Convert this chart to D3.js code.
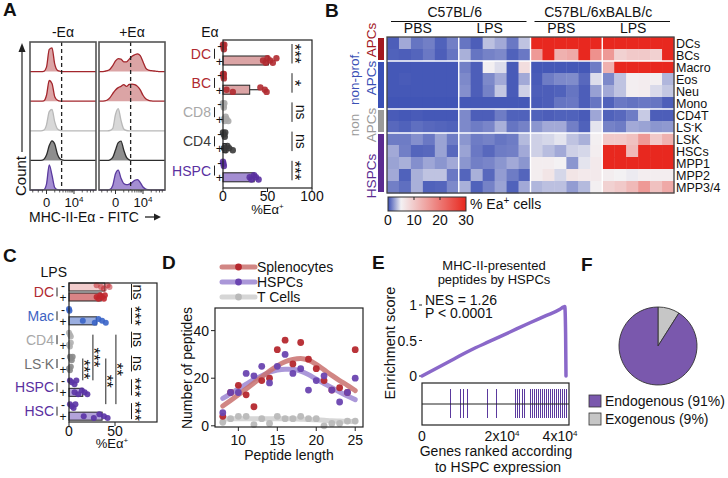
<!DOCTYPE html>
<html><head><meta charset="utf-8">
<script src="https://cdn.jsdelivr.net/npm/d3@7"></script>
<style>
html,body{margin:0;padding:0;background:#fff;}
svg{display:block;font-family:"Liberation Sans",Arial,Helvetica,sans-serif;}
</style></head><body>
<svg id="fig" width="728" height="478"></svg>
<script>
// ================= DATA =================
// Panel A – flow histograms (normalised counts on a display-unit grid; 0 -> "0", 1 -> "10^4")
const histGrid = [-0.6,-0.5,-0.4,-0.3,-0.2,-0.1,0,0.1,0.2,0.3,0.4,0.5,0.6,0.7,0.8,0.9,1.0,1.1,1.2,1.3,1.4,1.5,1.6,1.7,1.8];
const histPops = ["DC","BC","CD8","CD4","HSPC"];
const histMinus = [
  [0,0,0,0,0,0.01,0.15,0.75,0.8,0.25,0.04,0.01,0,0,0,0,0,0,0,0,0,0,0,0,0],
  [0,0,0,0,0,0.01,0.2,0.7,0.6,0.15,0.03,0,0,0,0,0,0,0,0,0,0,0,0,0,0],
  [0,0,0,0,0,0.02,0.2,0.65,0.72,0.3,0.06,0.01,0,0,0,0,0,0,0,0,0,0,0,0,0],
  [0,0,0,0,0,0.03,0.18,0.5,0.66,0.55,0.2,0.05,0.01,0,0,0,0,0,0,0,0,0,0,0,0],
  [0,0,0,0,0,0.01,0.2,0.85,0.5,0.08,0.01,0,0,0,0,0,0,0,0,0,0,0,0,0,0]
];
const histPlus = [
  [0,0,0.01,0.03,0.08,0.2,0.36,0.44,0.42,0.33,0.33,0.42,0.52,0.57,0.6,0.54,0.33,0.12,0.05,0.03,0.02,0.01,0,0,0],
  [0,0,0.01,0.04,0.12,0.26,0.38,0.46,0.5,0.56,0.5,0.57,0.58,0.56,0.5,0.38,0.2,0.08,0.03,0.01,0,0,0,0,0],
  [0,0,0,0,0.01,0.08,0.55,0.75,0.35,0.06,0.01,0,0,0,0,0,0,0,0,0,0,0,0,0,0],
  [0,0,0,0,0.02,0.1,0.35,0.6,0.65,0.35,0.1,0.02,0,0,0,0,0,0,0,0,0,0,0,0,0],
  [0,0,0,0,0.02,0.15,0.55,0.67,0.4,0.22,0.18,0.2,0.25,0.33,0.35,0.25,0.1,0.03,0.01,0,0,0,0,0,0]
];
const histGate = 0.55;
const histTickLabels = ["0","10"];

// Panel A – %Ea+ bar chart
const aCats = ["DC","BC","CD8","CD4","HSPC"];
const aMeanMinus = [0.5,0.5,0.5,1,0.5];
const aMeanPlus = [51,30,3,4,35];
const aErrPlus = [0,41,0,0,0];
const aDotsMinus = [[0,0.5,1,1.5],[0,0.5,1,1],[0,0.5,1,1.5],[0,1,2,2.5],[0,0.5,1]];
const aDotsPlus = [[45,48,50,53,56,60],[4,11,42,47,49],[1,2,3,4,6],[1,3,5,7,11],[30,32,35,37,40]];
const aSig = ["***","*","ns","ns","***"];
const aTicks = [0,50,100];

// Panel B – heatmap (% Ea+ cells)
const heatRows = ["DCs","BCs","Macro","Eos","Neu","Mono","CD4T","LS-K","LSK","HSCs","MPP1","MPP2","MPP3/4"];
const heatStrains = ["C57BL/6","C57BL/6xBALB/c"];
const heatTreat = ["PBS","LPS","PBS","LPS"];
const heatValues = [
  [0.5,2.8,1.2,1.5,0.6,1.5, 1.2,0.5,3.5,2.8,1.3,3.6, 30,30,30,30,30,30, 30,30,30,30,30,30],
  [0.6,0.5,0.7,1.3,0.5,1.2, 3.0,1.2,1.6,1.8,0.6,1.3, 16,30,13,14,30,17, 16,9,10,10,9,30],
  [0.3,0.3,0.3,0.3,0.3,0.3, 1.5,0.5,5.2,4.4,0.4,7.5, 0.3,0.3,0.3,0.3,0.3,1.4, 13,30,30,30,30,30],
  [0.3,0.4,0.3,0.3,0.3,0.3, 1.8,0.5,1.8,2.8,0.4,2.8, 0.4,1.4,1.8,1.9,0.8,4.4, 1.8,3.6,5.4,5.6,5.2,3.2],
  [0.3,0.3,0.3,0.3,0.3,0.3, 2.0,0.5,1.6,3.7,0.4,4.0, 0.5,0.5,0.6,1.2,0.5,2.5, 2.8,3.6,5.4,5.6,4.3,3.7],
  [0.2,0.2,0.2,0.2,0.2,0.2, 0.3,0.3,0.3,0.3,0.3,0.3, 0.4,0.5,1.2,1.3,0.5,1.2, 0.6,1.3,1.1,1.3,1.2,0.5],
  [0.4,0.3,0.4,0.3,0.3,0.3, 1.8,0.5,0.5,1.4,0.6,0.6, 0.6,0.5,0.6,0.6,0.4,2.7, 0.6,0.8,1.4,3.8,0.5,0.5],
  [0.8,0.6,1.0,0.8,0.7,0.6, 1.8,1.4,1.7,3.0,1.2,1.6, 2.2,2.8,2.8,1.5,0.6,4.6, 1.6,1.4,2.8,2.6,2.2,2.3],
  [1.4,1.4,2.0,1.3,2.6,1.4, 2.2,1.4,1.6,1.2,1.4,3.3, 4.0,4.2,4.6,3.6,3.0,5.2, 10,10,11,16,10,13],
  [2.8,1.5,0.7,0.8,2.6,0.8, 2.6,1.3,0.8,1.4,1.5,2.8, 4.0,3.4,2.8,4.0,4.2,5.5, 30,30,12,30,30,30],
  [2.6,3.0,2.0,2.7,2.2,2.8, 2.2,1.5,1.7,2.2,2.8,2.2, 5.5,5.5,5.0,2.2,4.6,6.0, 30,30,30,30,30,30],
  [2.8,0.6,3.0,3.6,3.6,1.3, 0.7,3.0,0.8,2.4,1.4,0.7, 5.5,6.5,4.2,6.5,6.0,6.0, 5.5,5.0,4.8,5.5,5.5,5.5],
  [1.5,1.0,3.0,0.6,0.7,1.8, 3.0,0.6,1.6,2.6,0.6,2.8, 3.2,3.5,3.5,2.4,3.3,5.2, 9,10,12,16,11,14]
];
const heatGroups = [
  {name:["APCs"], rows:[0,1], color:"#a3191f"},
  {name:["non-prof.","APCs"], rows:[2,5], color:"#3a50b5"},
  {name:["non","APCs"], rows:[6,7], color:"#9a9a9a"},
  {name:["HSPCs"], rows:[8,12], color:"#5b2c91"}
];
const heatLegendTicks = [0,10,20,30];

// Panel C – LPS %Ea+
const cCats = ["DC","Mac","CD4","LS-K","HSPC","HSC"];
const cMeanMinus = [39,0.5,0.5,1,3,3];
const cMeanPlus = [35,30,0.5,1,15,36];
const cDotsMinus = [[30,35,38,42,44],[0,0.5],[0,1,2],[1,2,3,4],[1,3,6,8],[1,3,5,7]];
const cDotsPlus = [[30,32,34,36,38,39],[15,28,32,36,40],[0,1,2],[0,1,2],[6,10,14,17,20],[16,27,33,38,42]];
const cSig = ["ns","***","ns","ns","***","***"];
const cPairs = [["LS-K","HSPC","***"],["CD4","HSPC","***"],["LS-K","HSC","**"],["CD4","HSC","**"]];
const cTicks = [0,50];

// Panel D – peptide length distribution
const dLengths = [8,9,10,11,12,13,14,15,16,17,18,19,20,21,22,23,24,25];
const dSpleno = [4,14,17,13,8,19,20,32,36,26,35,28,24,19,15,16,14,32];
const dHSPC   = [5.5,14,14,22,21,25,18,25,30,22,24,15,19,21,15,10,14,20];
const dTcell  = [1.5,3,4,4,0.5,3,1,4,3,3,4,3,3,0,1,1,2,2];
const dSplenoFit = [8.3,10.6,13,15.5,18,20.5,23,25.2,26.9,27.9,28.3,27.6,25.8,23.5,21.2,19,17,14.8];
const dHSPCFit   = [11.5,13.5,15.5,17.5,19.5,21,22.5,23.4,23.8,23.8,23,21.5,19.6,17.8,16,14.2,12.5,11];
const dTcellFit  = [2.8,2.9,3,3,3,3,3,3,3,2.9,2.8,2.7,2.5,2.3,2.1,2,1.9,1.8];
const dSeries = ["Splenocytes","HSPCs","T Cells"];
const dXTicks = [10,15,20,25];
const dYTicks = [0,20,40];

// Panel E – GSEA
const eRank = [0,4000,8000,12000,17000,22000,27000,31000,34500,35300,35700,35900,36000];
const eES   = [0,0.12,0.24,0.36,0.49,0.62,0.75,0.85,0.94,0.97,0.98,0.6,0];
const eHits = [7000,9500,10250,11250,16250,18500,23250,23750,24250,25000,25500,27000,27500,28000,28500,29000,29500,30000,30500,31000,31500,32000,32500,33000,33500,34000,34500,35000,35500,36000];
const eXTicks = [0,20000,40000];
const eXTickLabels = ["0","2x10","4x10"];
const eYTicks = [0,0.5,1];
const eYTickLabels = ["0","0.5","1"];

// Panel F – pie
const fLabels = ["Exogenous (9%)","Endogenous (91%)"];
const fValues = [9,91];

// ================= DRAWING =================
const svg = d3.select("#fig");
svg.append("rect").attr("width",728).attr("height",478).attr("fill","#fff");

function T(g,x,y,s,o={}){
  const t=g.append("text").attr("x",x).attr("y",y).text(s)
    .attr("font-size",o.size||14).attr("fill",o.fill||"#111").attr("text-anchor",o.anchor||"start");
  if(o.weight) t.attr("font-weight",o.weight);
  return t;
}
function R(g,x,y,s,angle,o={}){
  return g.append("text").attr("transform",`translate(${x},${y}) rotate(${angle})`).text(s)
    .attr("font-size",o.size||14).attr("fill",o.fill||"#111").attr("text-anchor",o.anchor||"middle");
}
function sup(t,s,size){ t.append("tspan").attr("dy",-5).attr("font-size",size||9).text(s); return t; }
function line(g,x1,y1,x2,y2,c,w){ return g.append("line").attr("x1",x1).attr("y1",y1).attr("x2",x2).attr("y2",y2).attr("stroke",c||"#111").attr("stroke-width",w||1); }
function sigText(g,xc,ym,s){
  const star = s.indexOf("*")>=0, size = star?17:14;
  const off = star?0.6*size:0.26*size;
  return R(g,xc-off,ym,s,90,{size:size,fill:"#111"});
}

// panel letters
[["A",3,16],["B",325,17],["C",3,262],["D",162,269],["E",372,269],["F",581,271]].forEach(d=>T(svg,d[1],d[2],d[0],{size:19,weight:"bold"}));

// ---------- Panel A histograms ----------
const popCol = {
  DC:{fill:"#dba4a5",stroke:"#a3262c",text:"#b02a30"},
  BC:{fill:"#dba4a5",stroke:"#a3262c",text:"#b02a30"},
  CD8:{fill:"#d8d8d8",stroke:"#b8b8b8",text:"#a8a8a8"},
  CD4:{fill:"#8e8e8e",stroke:"#2d2d2d",text:"#3a3a3a"},
  HSPC:{fill:"#a48ed2",stroke:"#5a3a9e",text:"#5a30a0"}
};
const hBoxX = [30,99], hW = 66, hTop = 42, hBot = 190;
const hRowH = (hBot-hTop)/histPops.length;
const hx = d3.scaleLinear().domain([histGrid[0],histGrid[histGrid.length-1]]).range([0,hW]);
const hy = d3.scaleLinear().domain([0,1]).range([0,hRowH]);
const gA = svg.append("g");
[histMinus,histPlus].forEach((set,si)=>{
  const g = gA.append("g").attr("transform",`translate(${hBoxX[si]},0)`);
  set.forEach((vals,ri)=>{
    const base = hTop + hRowH*(ri+1);
    const pts = histGrid.map((x,i)=>[x,vals[i]]);
    const col = popCol[histPops[ri]];
    g.append("path").attr("d",d3.area().x(d=>hx(d[0])).y0(base).y1(d=>base-hy(d[1])).curve(d3.curveMonotoneX)(pts)).attr("fill",col.fill);
    g.append("path").attr("d",d3.line().x(d=>hx(d[0])).y(d=>base-hy(d[1])).curve(d3.curveMonotoneX)(pts)).attr("fill","none").attr("stroke",col.stroke).attr("stroke-width",1.3);
  });
  line(g,hx(histGate),hTop,hx(histGate),hBot,"#222",1.3).attr("stroke-dasharray","4,3");
  g.append("rect").attr("x",0).attr("y",hTop).attr("width",hW).attr("height",hBot-hTop).attr("fill","none").attr("stroke","#555").attr("stroke-width",1.6);
  const minor = [-0.5,-0.3,-0.15,0.3,0.48,0.6,0.7,0.78,0.85,0.9,0.95,1.3,1.48,1.6,1.7];
  minor.forEach(v=>line(g,hx(v),hBot,hx(v),hBot+2.5,"#333",0.8));
  [0,1].forEach((v,i)=>{
    line(g,hx(v),hBot,hx(v),hBot+4,"#333",1);
    const t = T(g,hx(v),207,histTickLabels[i],{anchor:"middle",size:13});
    if(i===1) sup(t,"4",8);
  });
  T(g,hW/2,37,(si===0?"-":"+")+"E\u03b1",{anchor:"middle",size:14});
});
line(gA,22,152,22,50,"#222",1.2);
gA.append("path").attr("d","M22,43 L18.5,52 L25.5,52 Z").attr("fill","#222");
R(gA,26,176,"Count",-90,{size:15});
const xt = T(gA,29,222,"MHC-II-E\u03b1 - FITC",{size:14});
const xtEnd = 29 + xt.node().getComputedTextLength();
line(gA,xtEnd+6,217,xtEnd+18,217,"#222",1.3);
gA.append("path").attr("d",`M${xtEnd+22},217 L${xtEnd+15},213.5 L${xtEnd+15},220.5 Z`).attr("fill","#222");

// ---------- Panel A bar chart ----------
const gAb = svg.append("g");
const abx = d3.scaleLinear().domain([0,100]).range([223,312]);
const aby = d3.scaleBand().domain(aCats).range([39,185]);
const abTop = 40, abBot = 188;
aCats.forEach((c,i)=>{
  const b = aby(c), ym = b+8, yp = b+21.5, col = popCol[c];
  [[aMeanMinus[i],ym],[aMeanPlus[i],yp]].forEach(([v,y])=>{
    if(v>3) gAb.append("rect").attr("x",abx(0)).attr("y",y-4.5).attr("width",abx(v)-abx(0)).attr("height",9)
      .attr("fill",col.fill).attr("stroke","#222").attr("stroke-width",1);
  });
  if(aErrPlus[i]>0) line(gAb,abx(aMeanPlus[i]),yp,abx(aErrPlus[i]),yp,"#333",1.2);
  const jit = k => ((k%3)-1)*2.2;
  aDotsMinus[i].forEach((v,k)=>gAb.append("circle").attr("cx",abx(v)).attr("cy",ym+jit(k)).attr("r",3.2).attr("fill",col.text).attr("opacity",0.9));
  aDotsPlus[i].forEach((v,k)=>gAb.append("circle").attr("cx",abx(v)).attr("cy",yp+jit(k+1)).attr("r",3.2).attr("fill",col.text).attr("opacity",0.9));
  T(gAb,211,(ym+yp)/2+5,c,{anchor:"end",size:14,fill:col.text});
  line(gAb,214.5,(ym+yp)/2-5,214.5,(ym+yp)/2+5,"#222",1);
  T(gAb,219.5,ym+3,"-",{anchor:"middle",size:13});
  T(gAb,219.5,yp+5,"+",{anchor:"middle",size:13});
  line(gAb,292,ym-3,292,yp+3,"#222",1);
  sigText(gAb,299.5,(ym+yp)/2,aSig[i]);
});
gAb.append("rect").attr("x",abx(0)).attr("y",abTop).attr("width",abx(100)-abx(0)).attr("height",abBot-abTop).attr("fill","none").attr("stroke","#222").attr("stroke-width",1.2);
aTicks.forEach(v=>{ line(gAb,abx(v),abBot,abx(v),abBot+4,"#222",1); T(gAb,abx(v),201,String(v),{anchor:"middle",size:14}); });
T(gAb,210,37,"E\u03b1",{anchor:"middle",size:14});
sup(T(gAb,abx(50),214,"%E\u03b1",{anchor:"middle",size:13}),"+",8);

// ---------- Panel B heatmap ----------
const gB = svg.append("g");
const hmX0 = 387, hmX1 = 674, hmY0 = 37, hmY1 = 193;
const nCols = heatValues[0].length;
const hmx = d3.scaleBand().domain(d3.range(nCols)).range([hmX0,hmX1]);
const hmy = d3.scaleBand().domain(d3.range(heatRows.length)).range([hmY0,hmY1]);
const heatColor = d3.scaleLinear().domain([0,5,30]).range(["#3a4eb3","#f3f1f3","#e8281f"]).clamp(true);
heatValues.forEach((row,ri)=>row.forEach((v,ci)=>{
  gB.append("rect").attr("x",hmx(ci)).attr("y",hmy(ri)).attr("width",hmx.bandwidth()+0.4).attr("height",hmy.bandwidth()+0.4).attr("fill",heatColor(v));
}));
[6,12,18].forEach(c=>line(gB,hmx(c),hmY0,hmx(c),hmY1,"#fff",1.4));
[2,6,8].forEach(r=>line(gB,hmX0,hmy(r),hmX1,hmy(r),"#fff",1.4));
gB.append("rect").attr("x",hmX0).attr("y",hmY0).attr("width",hmX1-hmX0).attr("height",hmY1-hmY0).attr("fill","none").attr("stroke","#444").attr("stroke-width",1.3);
heatRows.forEach((r,ri)=>{
  const y = hmy(ri)+hmy.bandwidth()/2+4.5;
  if(r==="LS-K"){
    const t = T(gB,676,y,"LS",{size:12.5});
    t.append("tspan").attr("dy",-4).attr("font-size",9).text("-");
    t.append("tspan").attr("dy",4).attr("font-size",12.5).text("K");
  } else T(gB,676,y,r,{size:12.5});
});
heatStrains.forEach((s,si)=>{
  const cx0 = hmx(si*12), cx1 = hmx(si*12+11)+hmx.bandwidth();
  T(gB,(cx0+cx1)/2-4,17,s,{anchor:"middle",size:14});
  line(gB,cx0+4,21.5,cx1-4,21.5,"#111",1);
});
heatTreat.forEach((s,ti)=>{
  const cx = (hmx(ti*6)+hmx(ti*6+5)+hmx.bandwidth())/2;
  T(gB,cx-5,33,s,{anchor:"middle",size:14});
});
const grpLabelShift = [-9,-7,4,13];
heatGroups.forEach((gr,gi)=>{
  const y0 = hmy(gr.rows[0])+1, y1 = hmy(gr.rows[1])+hmy.bandwidth()-1;
  gB.append("rect").attr("x",378).attr("y",y0).attr("width",6).attr("height",y1-y0).attr("fill",gr.color);
  const cy = (y0+y1)/2 + grpLabelShift[gi];
  if(gr.name.length===1) R(gB,376,cy,gr.name[0],-90,{size:13.5,fill:gr.color});
  else { R(gB,359,cy,gr.name[0],-90,{size:13.5,fill:gr.color}); R(gB,376,cy,gr.name[1],-90,{size:13.5,fill:gr.color}); }
});
const lgx = d3.scaleLinear().domain([0,30]).range([388,466]);
const defs = svg.append("defs");
const grad = defs.append("linearGradient").attr("id","hmgrad");
d3.range(0,31,1).forEach(v=>grad.append("stop").attr("offset",(v/30*100)+"%").attr("stop-color",heatColor(v)));
gB.append("rect").attr("x",lgx(0)).attr("y",197).attr("width",lgx(30)-lgx(0)).attr("height",14).attr("fill","url(#hmgrad)").attr("stroke","#333").attr("stroke-width",1);
heatLegendTicks.forEach(v=>{
  if(v>0 && v<30) line(gB,lgx(v),197,lgx(v),200,"#222",1);
  T(gB,lgx(v),225,String(v),{anchor:"middle",size:14});
});
const lt = T(gB,470,209,"% Ea",{size:14});
lt.append("tspan").attr("dy",-5).attr("font-size",10).text("+");
lt.append("tspan").attr("dy",5).text(" cells");

// ---------- Panel C ----------
const gC = svg.append("g");
const cColors = {
  DC:{text:"#b02a30",dot:"#c0272d",barM:"#f2cdcd",barP:"#d98486"},
  Mac:{text:"#3e63c3",dot:"#3a64c8",barM:"#9aaee0",barP:"#9aaee0"},
  CD4:{text:"#a8a8a8",dot:"#b0b0b0",barM:"#ddd",barP:"#ddd"},
  "LS-K":{text:"#707070",dot:"#8a8a8a",barM:"#ccc",barP:"#ccc"},
  HSPC:{text:"#5a30a0",dot:"#5a33a5",barM:"#b3a3da",barP:"#b3a3da"},
  HSC:{text:"#5a30a0",dot:"#5a33a5",barM:"#b3a3da",barP:"#b3a3da"}
};
const cx = d3.scaleLinear().domain([0,50]).range([69,115]);
const cy = d3.scaleBand().domain(cCats).range([282,425]);
const cTop = 283, cBot = 422, cRight = 157;
const cRow = (c,pm)=>cy(c)+(pm?15:5);
T(gC,67,277,"LPS",{anchor:"end",size:14});
cCats.forEach((c,i)=>{
  const col = cColors[c], ym = cRow(c,0), yp = cRow(c,1);
  [[cMeanMinus[i],ym,col.barM],[cMeanPlus[i],yp,col.barP]].forEach(([v,y,f])=>{
    if(v>3) gC.append("rect").attr("x",cx(0)).attr("y",y-4).attr("width",cx(v)-cx(0)).attr("height",8).attr("fill",f).attr("stroke","#222").attr("stroke-width",1);
  });
  const jit = k => ((k%3)-1)*1.8;
  cDotsMinus[i].forEach((v,k)=>gC.append("circle").attr("cx",cx(v)).attr("cy",ym+jit(k)).attr("r",3).attr("fill",col.dot).attr("opacity",c==="DC"?0.55:0.9));
  cDotsPlus[i].forEach((v,k)=>gC.append("circle").attr("cx",cx(v)).attr("cy",yp+jit(k+1)).attr("r",3).attr("fill",col.dot).attr("opacity",0.9));
  const mid = (ym+yp)/2;
  const t = T(gC,54,mid+5,"",{anchor:"end",size:14,fill:col.text});
  if(c==="LS-K"){
    t.append("tspan").text("LS");
    t.append("tspan").attr("dy",-4).attr("font-size",10).text("-");
    t.append("tspan").attr("dy",4).text("K");
  } else t.text(c);
  line(gC,57,mid-4.5,57,mid+4.5,"#222",1);
  T(gC,63,ym+3,"-",{anchor:"middle",size:12});
  T(gC,63,yp+5,"+",{anchor:"middle",size:12});
  line(gC,131.5,ym-3,131.5,yp+3,"#222",1);
  sigText(gC,cSig[i]==="ns"?137:139.5,mid,cSig[i]);
});
const cPairX = [15,26,40,51];
cPairs.forEach((p,i)=>{
  const y0 = cRow(p[0],0), y1 = cRow(p[1],0)-2, x = cx(cPairX[i]);
  line(gC,x,y0,x,y1,"#222",1);
  sigText(gC,x+5.5,(y0+y1)/2,p[2]);
});
gC.append("rect").attr("x",cx(0)).attr("y",cTop).attr("width",cRight-cx(0)).attr("height",cBot-cTop).attr("fill","none").attr("stroke","#222").attr("stroke-width",1.2);
cTicks.forEach(v=>{ line(gC,cx(v),cBot,cx(v),cBot+4,"#222",1); T(gC,cx(v),436,String(v),{anchor:"middle",size:14}); });
sup(T(gC,112,448,"%E\u03b1",{anchor:"middle",size:13}),"+",8);

// ---------- Panel D ----------
const gD = svg.append("g");
const dx = d3.scaleLinear().domain([7,26]).range([215,363]);
const dy = d3.scaleLinear().domain([-0.5,49.5]).range([427,308]);
const dCols = [
  {line:"#c9716f",dot:"#b5282e",vals:dSpleno,fit:dSplenoFit},
  {line:"#9c86d2",dot:"#6a44b0",vals:dHSPC,fit:dHSPCFit},
  {line:"#cfcfcf",dot:"#b9b9b9",vals:dTcell,fit:dTcellFit}
];
const dLine = d3.line().x((d,i)=>dx(dLengths[i])).y(d=>dy(d)).curve(d3.curveMonotoneX);
[2,1,0].forEach(k=>gD.append("path").attr("d",dLine(dCols[k].fit)).attr("fill","none").attr("stroke",dCols[k].line).attr("stroke-width",5).attr("stroke-linecap","round").attr("opacity",0.85));
[2,0,1].forEach(k=>dCols[k].vals.forEach((v,i)=>gD.append("circle").attr("cx",dx(dLengths[i])).attr("cy",dy(v)).attr("r",3.4).attr("fill",dCols[k].dot).attr("opacity",0.95)));
gD.append("rect").attr("x",215).attr("y",308).attr("width",148).attr("height",119).attr("fill","none").attr("stroke","#222").attr("stroke-width",1.2);
dXTicks.forEach(v=>{ line(gD,dx(v),427,dx(v),431,"#222",1); T(gD,dx(v),445,String(v),{anchor:"middle",size:14}); });
dYTicks.forEach(v=>{ line(gD,211,dy(v),215,dy(v),"#222",1); T(gD,209,dy(v)+5,String(v),{anchor:"end",size:14}); });
T(gD,289,460,"Peptide length",{anchor:"middle",size:14});
R(gD,192,368,"Number of peptides",-90,{size:14});
dSeries.forEach((s,i)=>{
  const y = 267+i*15;
  line(gD,222,y,255,y,dCols[i].line,5).attr("stroke-linecap","round").attr("opacity",0.85);
  gD.append("circle").attr("cx",238.5).attr("cy",y).attr("r",3.4).attr("fill",dCols[i].dot);
  T(gD,257,y+5,s,{size:14});
});

// ---------- Panel E ----------
const gE = svg.append("g");
const ex = d3.scaleLinear().domain([0,36750]).range([422,569]);
const ey = d3.scaleLinear().domain([0,1]).range([376,305]);
T(gE,494,270,"MHC-II-presented",{anchor:"middle",size:13});
T(gE,494,284,"peptides by HSPCs",{anchor:"middle",size:13});
T(gE,425,305,"NES = 1.26",{size:14});
T(gE,425,318,"P < 0.0001",{size:14});
eYTicks.forEach((v,i)=>{ line(gE,419,ey(v),422,ey(v),"#222",1); T(gE,417,ey(v)+5,eYTickLabels[i],{anchor:"end",size:14}); });
gE.append("path").attr("d",d3.line().x((d,i)=>ex(eRank[i])).y(d=>ey(d)).curve(d3.curveMonotoneX)(eES)).attr("fill","none").attr("stroke","#8a68c9").attr("stroke-width",3.5).attr("stroke-linecap","round");
eHits.forEach(r=>line(gE,Math.round(ex(r))+0.5,389,Math.round(ex(r))+0.5,418,"#5b3a9e",1).attr("shape-rendering","crispEdges"));
line(gE,422,404,569,404,"#222",1);
gE.append("rect").attr("x",422).attr("y",383).attr("width",147).attr("height",42).attr("fill","none").attr("stroke","#222").attr("stroke-width",1.2);
eXTicks.forEach((v,i)=>{
  const xp = Math.min(ex(v), ex.range()[1]-9);
  const t = T(gE,xp,441,eXTickLabels[i],{anchor:"middle",size:14});
  if(i>0) sup(t,"4",8);
});
T(gE,496,456,"Genes ranked according",{anchor:"middle",size:14});
T(gE,498,472,"to HSPC expression",{anchor:"middle",size:14});
R(gE,395,343,"Enrichment score",-90,{size:14.5});

// ---------- Panel F ----------
const gF = svg.append("g").attr("transform","translate(658,346)");
const fCols = ["#c6c6c6","#7a58ad"];
const arcs = d3.pie().sort(null)(fValues);
gF.selectAll("path").data(arcs).join("path").attr("d",d3.arc().innerRadius(0).outerRadius(39)).attr("fill",(d,i)=>fCols[i]).attr("stroke","#333").attr("stroke-width",0.9);
[1,0].forEach((k,j)=>{
  const y = 395 + j*18;
  svg.append("rect").attr("x",589).attr("y",y).attr("width",12).attr("height",12).attr("fill",fCols[k]).attr("stroke","#333").attr("stroke-width",0.8);
  T(svg,605,y+11,fLabels[k],{size:14});
});
</script></body></html>
